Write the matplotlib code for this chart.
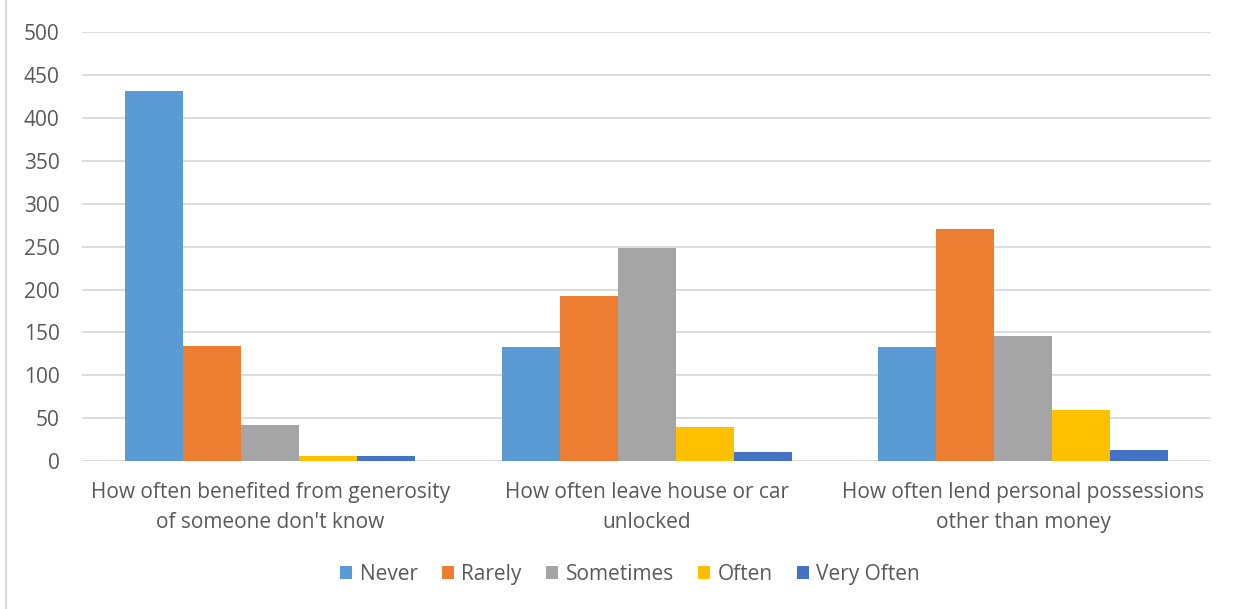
import matplotlib
matplotlib.use("Agg")
import matplotlib.pyplot as plt
import numpy as np
from matplotlib.patches import Patch

categories = [
    "How often benefited from generosity\nof someone don't know",
    "How often leave house or car\nunlocked",
    "How often lend personal possessions\nother than money",
]
series_names = ["Never", "Rarely", "Sometimes", "Often", "Very Often"]
never = [431, 133, 133]
rarely = [134, 192, 270]
sometimes = [42, 248, 146]
often = [6, 40, 60]
very_often = [6, 10, 13]
yticks = [0, 50, 100, 150, 200, 250, 300, 350, 400, 450, 500]

colors = ["#5B9BD5", "#ED7D31", "#A5A5A5", "#FFC000", "#4472C4"]
text_color = "#595959"

plt.rcParams["font.family"] = ["Open Sans", "DejaVu Sans"]

fig = plt.figure(figsize=(12.4, 6.09), dpi=100)
ax = fig.add_axes([0.066, 0.243, 0.911, 0.704])

x = np.arange(len(categories))
width = 0.154
values = [never, rarely, sometimes, often, very_often]
for i, (name, vals) in enumerate(zip(series_names, values)):
    ax.bar(x + (i - 2) * width, vals, width, color=colors[i], label=name, zorder=3)

ax.set_xlim(-0.5, len(categories) - 0.5)
ax.set_ylim(0, 500)
ax.set_yticks(yticks)
ax.set_yticklabels([str(t) for t in yticks], fontsize=15, color=text_color)
ax.set_xticks(x)
ax.set_xticklabels(categories, fontsize=15, color=text_color, linespacing=1.55)
ax.tick_params(axis="both", length=0)
ax.tick_params(axis="y", pad=16)
ax.tick_params(axis="x", pad=15)
ax.grid(axis="y", color="#D9D9D9", linewidth=1.3, zorder=0)
for s in ax.spines.values():
    s.set_visible(False)

handles = [Patch(facecolor=c, label=n) for c, n in zip(colors, series_names)]
fig.legend(handles=handles, loc="center", bbox_to_anchor=(0.508, 0.057), ncol=5,
           frameon=False, fontsize=15, handlelength=0.6, handleheight=0.6,
           handletextpad=0.35, columnspacing=1.15, labelcolor=text_color)

# light border on the left edge of the chart area
fig.add_artist(plt.Line2D([0.005, 0.005], [0.0, 1.0], color="#D9D9D9", linewidth=1.5,
                          transform=fig.transFigure))

fig.savefig("out.png", dpi=100, facecolor="white")
plt.close(fig)
